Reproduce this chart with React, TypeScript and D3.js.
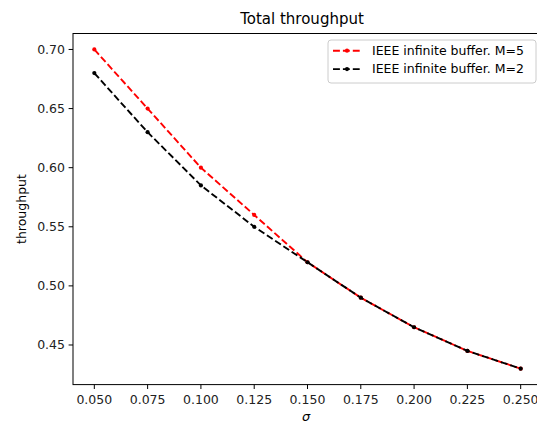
import React from "react";
import * as d3 from "d3";

const sigma = [0.05, 0.075, 0.1, 0.125, 0.15, 0.175, 0.2, 0.225, 0.25];
const m5 = [0.70, 0.65, 0.60, 0.56, 0.52, 0.49, 0.465, 0.445, 0.43];
const m2 = [0.68, 0.63, 0.585, 0.55, 0.52, 0.49, 0.465, 0.445, 0.43];
const xTicks = [0.05, 0.075, 0.1, 0.125, 0.15, 0.175, 0.2, 0.225, 0.25];
const yTicks = [0.45, 0.5, 0.55, 0.6, 0.65, 0.7];
const seriesNames = ["IEEE infinite buffer. M=5", "IEEE infinite buffer. M=2"];
const seriesColors = ["#ff0000", "#000000"];

const W = 537, H = 427;
const L = 73, R = 542, T = 33.5, B = 384.6;
const FONT = "DejaVu Sans, sans-serif";

export default function App() {
  const x = d3.scaleLinear().domain([0.04, 0.26]).range([L, R]);
  const y = d3.scaleLinear().domain([0.4165, 0.7135]).range([B, T]);
  const line = d3.line<[number, number]>().x(d => x(d[0])).y(d => y(d[1]));
  const series = [m5, m2];
  const dash = "6.9,3";
  return (
    <svg width={W} height={H} style={{ position: "fixed", left: 0, top: 0, background: "#fff" }} fontFamily={FONT}>
      <rect x={0} y={0} width={W} height={H} fill="#fff" />
      {series.map((vals, i) => {
        const pts = sigma.map((s, k) => [s, vals[k]] as [number, number]);
        return (
          <g key={i}>
            <path d={line(pts) || ""} fill="none" stroke={seriesColors[i]} strokeWidth={1.9} strokeDasharray={dash} />
            {pts.map((p, k) => (
              <circle key={k} cx={x(p[0])} cy={y(p[1])} r={2.1} fill={seriesColors[i]} />
            ))}
          </g>
        );
      })}
      {/* spines */}
      <rect x={L} y={T} width={R - L} height={B - T} fill="none" stroke="#000" strokeWidth={1} />
      {xTicks.map((t, i) => (
        <g key={i}>
          <line x1={x(t)} x2={x(t)} y1={B} y2={B + 4.4} stroke="#000" strokeWidth={1} />
          <text x={x(t)} y={B + 19} textAnchor="middle" fontSize={12.5} fill="#222">{d3.format(".3f")(t)}</text>
        </g>
      ))}
      {yTicks.map((t, i) => (
        <g key={i}>
          <line x1={L - 4.4} x2={L} y1={y(t)} y2={y(t)} stroke="#000" strokeWidth={1} />
          <text x={L - 8} y={y(t)} dy="0.35em" textAnchor="end" fontSize={12.5} fill="#222">{d3.format(".2f")(t)}</text>
        </g>
      ))}
      <text x={302} y={24} textAnchor="middle" fontSize={15} fill="#000">Total throughput</text>
      <text x={306} y={421} textAnchor="middle" fontSize={13} fontStyle="italic" fill="#000">σ</text>
      <text transform={`translate(26,${(T + B) / 2}) rotate(-90)`} textAnchor="middle" fontSize={12.5} fill="#000">throughput</text>
      {/* legend */}
      <rect x={328} y={40} width={208} height={43} rx={3} fill="#fff" fillOpacity={0.8} stroke="#ccc" strokeWidth={1} />
      {seriesNames.map((n, i) => {
        const cy = 50.7 + i * 18.4;
        return (
          <g key={i}>
            <line x1={333} x2={361} y1={cy} y2={cy} stroke={seriesColors[i]} strokeWidth={1.9} strokeDasharray={dash} />
            <circle cx={347} cy={cy} r={2.1} fill={seriesColors[i]} />
            <text x={372} y={cy} dy="0.35em" fontSize={12.5} fill="#000">{n}</text>
          </g>
        );
      })}
    </svg>
  );
}
